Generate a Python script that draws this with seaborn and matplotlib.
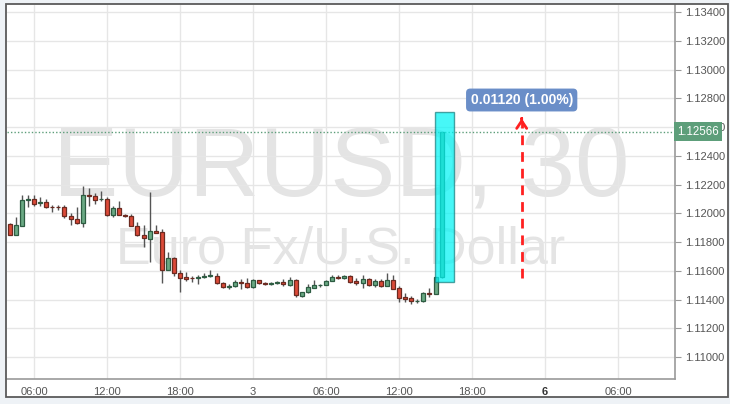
import numpy as np
import pandas as pd
import matplotlib
matplotlib.use("Agg")
import matplotlib.pyplot as plt
from matplotlib.patches import Rectangle
import seaborn as sns

# ---------------- data (30-minute EURUSD candles) ----------------
opens = [1.11926, 1.11852, 1.11910, 1.12089, 1.12096, 1.12068, 1.12077, 1.12047, 1.12047, 1.12042,
         1.11984, 1.11961, 1.11931, 1.12130, 1.12123, 1.12096, 1.12096, 1.11987, 1.12038, 1.11991,
         1.11984, 1.11910, 1.11852, 1.11822, 1.11875, 1.11868, 1.11606, 1.11690, 1.11583, 1.11558,
         1.11551, 1.11548, 1.11555, 1.11562, 1.11567, 1.11514, 1.11486, 1.11495, 1.11525, 1.11516,
         1.11486, 1.11534, 1.11516, 1.11507, 1.11516, 1.11525, 1.11504, 1.11535, 1.11426, 1.11449,
         1.11481, 1.11500, 1.11502, 1.11530, 1.11558, 1.11553, 1.11565, 1.11528, 1.11514, 1.11546,
         1.11500, 1.11532, 1.11495, 1.11537, 1.11481, 1.11419, 1.11412, 1.11388, 1.11388, 1.11442,
         1.11435, 1.11555]
highs = [1.11933, 1.11977, 1.12126, 1.12126, 1.12130, 1.12112, 1.12096, 1.12061, 1.12061, 1.12056,
         1.12003, 1.12047, 1.12193, 1.12177, 1.12140, 1.12158, 1.12112, 1.12054, 1.12084, 1.11996,
         1.11996, 1.11938, 1.11915, 1.12151, 1.11915, 1.11892, 1.11729, 1.11695, 1.11602, 1.11590,
         1.11567, 1.11572, 1.11583, 1.11602, 1.11583, 1.11521, 1.11509, 1.11537, 1.11541, 1.11548,
         1.11544, 1.11539, 1.11521, 1.11521, 1.11532, 1.11544, 1.11555, 1.11546, 1.11453, 1.11511,
         1.11535, 1.11511, 1.11535, 1.11574, 1.11574, 1.11574, 1.11574, 1.11551, 1.11569, 1.11551,
         1.11546, 1.11546, 1.11581, 1.11569, 1.11495, 1.11442, 1.11426, 1.11402, 1.11449, 1.11477,
         1.11560, 1.12566]
lows = [1.11850, 1.11850, 1.11908, 1.12042, 1.12049, 1.12054, 1.12035, 1.12008, 1.12024, 1.11968,
        1.11915, 1.11926, 1.11903, 1.12054, 1.12066, 1.12082, 1.11984, 1.11973, 1.11987, 1.11977,
        1.11908, 1.11845, 1.11764, 1.11660, 1.11864, 1.11514, 1.11606, 1.11567, 1.11451, 1.11532,
        1.11521, 1.11509, 1.11551, 1.11555, 1.11509, 1.11481, 1.11474, 1.11490, 1.11474, 1.11481,
        1.11481, 1.11509, 1.11504, 1.11500, 1.11509, 1.11497, 1.11497, 1.11419, 1.11419, 1.11446,
        1.11477, 1.11488, 1.11500, 1.11528, 1.11541, 1.11546, 1.11518, 1.11504, 1.11477, 1.11495,
        1.11488, 1.11488, 1.11495, 1.11472, 1.11384, 1.11384, 1.11372, 1.11379, 1.11384, 1.11419,
        1.11435, 1.11550]
closes = [1.11852, 1.11915, 1.12089, 1.12098, 1.12066, 1.12077, 1.12042, 1.12042, 1.12045, 1.11982,
          1.11961, 1.11931, 1.12130, 1.12121, 1.12093, 1.12100, 1.11987, 1.12038, 1.11987, 1.11980,
          1.11910, 1.11850, 1.11827, 1.11875, 1.11864, 1.11606, 1.11690, 1.11583, 1.11553, 1.11544,
          1.11548, 1.11560, 1.11565, 1.11574, 1.11514, 1.11486, 1.11497, 1.11523, 1.11516, 1.11486,
          1.11534, 1.11516, 1.11507, 1.11516, 1.11525, 1.11509, 1.11537, 1.11430, 1.11449, 1.11486,
          1.11504, 1.11504, 1.11532, 1.11558, 1.11551, 1.11565, 1.11523, 1.11518, 1.11541, 1.11500,
          1.11532, 1.11495, 1.11537, 1.11472, 1.11412, 1.11407, 1.11388, 1.11393, 1.11442, 1.11435,
          1.11555, 1.12566]

x_tick_bars = [4, 16, 28, 40, 52, 64, 76, 88, 100]
x_tick_labels = ["06:00", "12:00", "18:00", "3", "06:00", "12:00", "18:00", "6", "06:00"]
y_ticks = [1.110, 1.112, 1.114, 1.116, 1.118, 1.120, 1.122, 1.124, 1.126, 1.128, 1.130, 1.132, 1.134]

last_price = 1.12566
range_low, range_high = 1.11522, 1.12707
arrow_from, arrow_to = 1.11550, 1.12660
measure_label = "0.01120 (1.00%)"
symbol_text = "EURUSD, 30"
desc_text = "Euro Fx/U.S. Dollar"

df = pd.DataFrame({"open": opens, "high": highs, "low": lows, "close": closes})
df["bar"] = np.arange(len(df))
df["up"] = df["close"] >= df["open"]

# ---------------- styling ----------------
sns.set_theme(style="white")
plt.rcParams["font.family"] = ["Liberation Sans", "DejaVu Sans"]

W, H = 730, 404
fig = plt.figure(figsize=(W / 100, H / 100), dpi=100)
fig.patch.set_facecolor("#eef2f6")
# white chart panel (behind) and its frame (on top)
fig.patches.append(Rectangle((6 / W, 7 / H), 722 / W, 393 / H, transform=fig.transFigure,
                             facecolor="white", edgecolor="none", zorder=-5))
fig.patches.append(Rectangle((6 / W, 7 / H), 722 / W, 393 / H, transform=fig.transFigure,
                             facecolor="none", edgecolor="#5a5a5a", lw=1.3, zorder=20))

ax = fig.add_axes([7 / W, (H - 379) / H, (675 - 7) / W, (379 - 5) / H])
ax.set_facecolor("white")
ax.set_xlim(-0.44, 109.36)
ax.set_ylim(1.10847, 1.13449)

# grid
ax.set_xticks(x_tick_bars)
ax.set_xticklabels(x_tick_labels)
ax.set_yticks(y_ticks)
ax.set_yticklabels([f"{v:.5f}" for v in y_ticks])
ax.grid(True, color="#e6e6e6", lw=1, zorder=0)
ax.set_axisbelow(True)
ax.yaxis.tick_right()
ax.tick_params(axis="both", which="both", length=4, width=0.8, color="#9a9a9a",
               labelsize=8, labelcolor="#555555", pad=3, direction="out")
ax.tick_params(axis="x", pad=2)
for lbl in ax.get_xticklabels():
    if lbl.get_text() == "6":
        lbl.set_fontweight("bold")
        lbl.set_color("#333333")
for side in ["top", "left"]:
    ax.spines[side].set_visible(False)
for side in ["right", "bottom"]:
    ax.spines[side].set_color("#9a9a9a")
    ax.spines[side].set_linewidth(1.2)

# watermark
ax.text(0.5, 1.12127, symbol_text, transform=ax.get_yaxis_transform(), ha="center",
        va="baseline", fontsize=70.5, color="#e4e4e4", zorder=0.5)
ax.text(0.5, 1.11654, desc_text, transform=ax.get_yaxis_transform(), ha="center",
        va="baseline", fontsize=37.5, color="#e4e4e4", zorder=0.5)

# candles
up_fill, up_edge = "#6aa984", "#2d5c42"
dn_fill, dn_edge = "#dc4a38", "#6b2a20"
ax.vlines(df["bar"], df["low"], df["high"], color="#555555", lw=1, zorder=2)
body_bottom = np.minimum(df["open"], df["close"])
body_height = np.maximum(np.abs(df["close"] - df["open"]), 0.00002)
ax.bar(df["bar"], body_height, bottom=body_bottom, width=0.66,
       color=np.where(df["up"], up_fill, dn_fill),
       edgecolor=np.where(df["up"], up_edge, dn_edge), linewidth=0.9, zorder=3)

# last price line & tag
sns.lineplot(x=[ax.get_xlim()[0], ax.get_xlim()[1]], y=[last_price, last_price], ax=ax,
             color="#5d9e7a", lw=1, linestyle=(0, (1, 1.5)), zorder=4)
ax.text(1.003, last_price, f"{last_price:.5f}", transform=ax.get_yaxis_transform(),
        ha="left", va="center", fontsize=8.3, color="white", zorder=10, clip_on=False,
        bbox=dict(boxstyle="square,pad=0.3", fc="#5d9e7a", ec="none"))

# highlighted range box (over last candle)
last_bar = df["bar"].iloc[-2]
ax.add_patch(Rectangle((last_bar - 0.1, range_low), 3.1, range_high - range_low,
                       facecolor="#00f5f5", alpha=0.72, edgecolor="#1a7f7f", lw=1.0, zorder=5))

# measure arrow
arrow_x = 84.16
ax.plot([arrow_x, arrow_x], [arrow_from, arrow_to - 0.00015], color="#ff2020", lw=2,
        linestyle=(0, (3.5, 2.5)), zorder=6)
ax.annotate("", xy=(arrow_x, arrow_to), xytext=(arrow_x, arrow_to - 0.0002),
            arrowprops=dict(arrowstyle="->,head_length=0.45,head_width=0.3", color="#ff2020", lw=2),
            zorder=6)
ax.text(arrow_x, 1.12788, measure_label, ha="center", va="center", fontsize=10,
        fontweight="bold", color="white", zorder=7,
        bbox=dict(boxstyle="round,pad=0.32,rounding_size=0.3", fc="#6a8ec8", ec="none"))

fig.savefig("out.png", dpi=100, facecolor=fig.get_facecolor())
